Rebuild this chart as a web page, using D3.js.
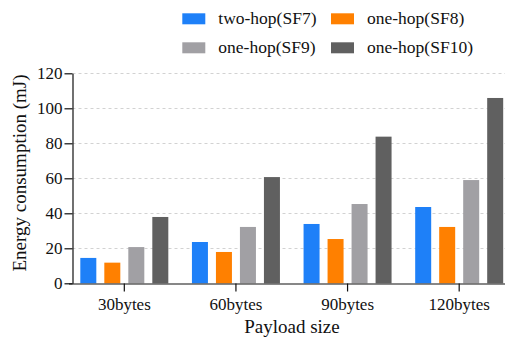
<!DOCTYPE html>
<html>
<head>
<meta charset="utf-8">
<script src="https://cdn.jsdelivr.net/npm/d3@7"></script>
<style>
  html, body { margin: 0; padding: 0; background: #fff; }
  svg { display: block; }
</style>
</head>
<body>
<svg id="chart" width="505" height="338" font-family="Liberation Serif, Times New Roman, Tinos, serif"></svg>
<script>
// Payload sizes along the x axis
const categories = ["30bytes", "60bytes", "90bytes", "120bytes"];
// Series names and their energy consumption (mJ)
const seriesNames = ["two-hop(SF7)", "one-hop(SF8)", "one-hop(SF9)", "one-hop(SF10)"];
const sf7 = [14.5, 23.6, 33.9, 43.6];
const sf8 = [11.8, 17.9, 25.3, 32.2];
const sf9 = [20.7, 32.2, 45.3, 59.0];
const sf10 = [37.9, 60.7, 83.8, 105.9];
const yTicks = [0, 20, 40, 60, 80, 100, 120];
const colors = ["#1e80f8", "#ff8000", "#a1a0a4", "#606060"];

const FONT = "Liberation Serif, Times New Roman, Tinos, serif";
const INK = "#111";

const seriesValues = [sf7, sf8, sf9, sf10];
const rows = categories.map((c, i) => ({
  cat: c,
  vals: seriesNames.map((s, j) => ({ key: s, value: seriesValues[j][i], idx: j }))
}));

const svg = d3.select("#chart");

const y = d3.scaleLinear().domain([0, 120]).range([283.3, 73.3]);
const x = d3.scaleBand().domain(categories).range([68.5, 515])
  .paddingInner(0.14).paddingOuter(0.07);
const xSub = d3.scaleBand().domain(seriesNames).range([0, x.bandwidth()])
  .paddingInner(1 / 3).paddingOuter(1 / 6);

// Horizontal dashed grid
svg.append("g")
  .selectAll("line")
  .data(yTicks.filter(d => d > 0))
  .join("line")
  .attr("x1", 72.5).attr("x2", 505)
  .attr("y1", d => Math.round(y(d)) + 0.5)
  .attr("y2", d => Math.round(y(d)) + 0.5)
  .attr("stroke", "#d2d2d2")
  .attr("stroke-width", 1)
  .attr("stroke-dasharray", "3,3");

// Bars
svg.append("g")
  .selectAll("g")
  .data(rows)
  .join("g")
  .attr("transform", d => `translate(${x(d.cat)},0)`)
  .selectAll("rect")
  .data(d => d.vals)
  .join("rect")
  .attr("x", d => xSub(d.key))
  .attr("width", xSub.bandwidth())
  .attr("y", d => y(d.value))
  .attr("height", d => y(0) - y(d.value))
  .attr("fill", d => colors[d.idx]);

// X axis
const xAxis = svg.append("g")
  .attr("transform", "translate(0,283.5)")
  .call(d3.axisBottom(x).tickSize(8).tickSizeOuter(0).tickPadding(6));
xAxis.attr("font-family", FONT).attr("font-size", 17);
xAxis.select(".domain").attr("stroke", INK).attr("stroke-width", 1.2);
xAxis.selectAll(".tick line").attr("stroke", INK).attr("stroke-width", 1.2);
xAxis.selectAll(".tick text").attr("fill", INK);

// Y axis
const yAxis = svg.append("g")
  .attr("transform", "translate(72.5,0)")
  .call(d3.axisLeft(y).tickValues(yTicks).tickSize(8).tickSizeOuter(0).tickPadding(2));
yAxis.attr("font-family", FONT).attr("font-size", 17);
yAxis.select(".domain").attr("stroke", INK).attr("stroke-width", 1.2);
yAxis.selectAll(".tick line").attr("stroke", INK).attr("stroke-width", 1.2);
yAxis.selectAll(".tick text").attr("fill", INK);

// Axis titles
svg.append("text")
  .attr("x", 292).attr("y", 333)
  .attr("text-anchor", "middle")
  .attr("font-family", FONT).attr("font-size", 19).attr("fill", INK)
  .text("Payload size");

svg.append("text")
  .attr("transform", "translate(26,173) rotate(-90)")
  .attr("text-anchor", "middle")
  .attr("font-family", FONT).attr("font-size", 19).attr("fill", INK)
  .text("Energy consumption (mJ)");

// Legend, two columns
const legend = svg.append("g");
const legendPos = [[182.3, 13.3], [331, 13.3], [182.3, 42.3], [331, 42.3]];
seriesNames.forEach((name, i) => {
  const [lx, ly] = legendPos[i];
  legend.append("rect")
    .attr("x", lx).attr("y", ly).attr("width", 23).attr("height", 11)
    .attr("fill", colors[i]);
  legend.append("text")
    .attr("x", lx + 36).attr("y", ly + 11)
    .attr("font-family", FONT).attr("font-size", 17.5).attr("fill", INK)
    .text(name);
});
</script>
</body>
</html>
